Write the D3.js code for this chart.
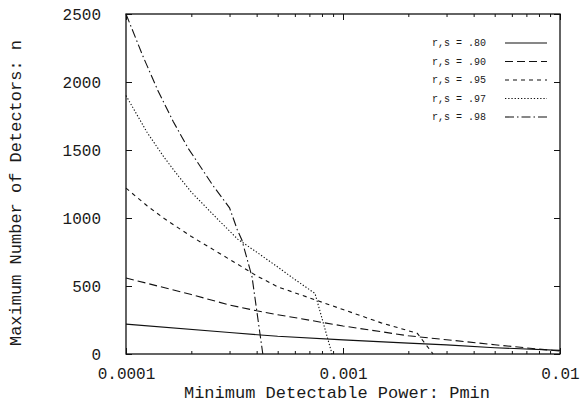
<!DOCTYPE html>
<html>
<head>
<meta charset="utf-8">
<script src="https://cdn.jsdelivr.net/npm/d3@7"></script>
<style>
	body { margin: 0; background: #fff; }
	text { font-family: "Liberation Mono", "DejaVu Sans Mono", monospace; fill: #1a1a1a; }
</style>
</head>
<body>
<div id="chart"></div>
<script>
//legend labels, one per curve
var seriesNames = ["r,s = .80", "r,s = .90", "r,s = .95", "r,s = .97", "r,s = .98"];

//minimum detectable power (x) and max number of detectors (y) for each curve
var pmin80 = [1e-4, 3e-4, 5e-4, 1e-3, 2e-3, 3e-3, 5e-3, 1e-2];
var n80 = [220, 158, 130, 104, 80, 67, 46, 27];

var pmin90 = [1e-4, 2e-4, 3e-4, 4e-4, 5e-4, 1e-3, 2e-3, 3e-3, 5e-3, 1e-2];
var n90 = [559, 437, 360, 318, 289, 206, 134, 105, 68, 21];

var pmin95 = [1e-4, 1.25e-4, 1.5e-4, 2e-4, 3e-4, 4e-4, 5e-4, 1e-3, 1.5e-3, 2.2e-3, 2.6e-3];
var n95 = [1220, 1090, 996, 864, 696, 575, 494, 327, 229, 152, 0];

var pmin97 = [1e-4, 1.25e-4, 1.5e-4, 1.75e-4, 2e-4, 2.65e-4, 3.27e-4, 4e-4, 5e-4, 6e-4, 7.43e-4, 8.9e-4];
var n97 = [1900, 1630, 1445, 1305, 1190, 990, 845, 749, 640, 548, 445, 0];

var pmin98 = [1e-4, 1.2e-4, 1.4e-4, 1.65e-4, 1.93e-4, 2.5e-4, 3e-4, 3.26e-4, 3.42e-4, 3.81e-4, 4.27e-4];
var n98 = [2500, 2185, 1940, 1710, 1515, 1245, 1075, 912, 838, 566, 0];

//tick labels
var xTicks = [1e-4, 1e-3, 1e-2];
var xTickLabels = ["0.0001", "0.001", "0.01"];
var yTicks = [0, 500, 1000, 1500, 2000, 2500];

(function () {

	"use strict";

	var width = 581,
		height = 403,
		margin = { top: 14, right: 21, bottom: 49, left: 126 },
		w = width - margin.left - margin.right,
		h = height - margin.top - margin.bottom;

	var series = [
		{ name: seriesNames[0], p: pmin80, n: n80, dash: null },
		{ name: seriesNames[1], p: pmin90, n: n90, dash: "8,4" },
		{ name: seriesNames[2], p: pmin95, n: n95, dash: "4,4" },
		{ name: seriesNames[3], p: pmin97, n: n97, dash: "1.3,1.9" },
		{ name: seriesNames[4], p: pmin98, n: n98, dash: "9,3,1.5,3" }
	];

	var svg = d3.select("#chart").append("svg")
		.attr("width", width)
		.attr("height", height);

	var g = svg.append("g")
		.attr("transform", "translate(" + margin.left + "," + margin.top + ")");

	var x = d3.scaleLog().domain([1e-4, 1e-2]).range([0, w]);
	var y = d3.scaleLinear().domain([0, 2500]).range([h, 0]);

	//minor log ticks: 2..9 of every decade
	var minor = [];
	[1e-4, 1e-3].forEach(function (d) {
		for (var k = 2; k < 10; k++) minor.push(d * k);
	});

	function noDomain(sel) { sel.select(".domain").remove(); }

	//bottom
	g.append("g").attr("transform", "translate(0," + h + ")")
		.call(d3.axisBottom(x).tickValues(minor).tickSize(-3).tickFormat(""))
		.call(noDomain);
	g.append("g").attr("transform", "translate(0," + h + ")")
		.call(d3.axisBottom(x).tickValues(xTicks).tickSize(-6).tickPadding(14)
			.tickFormat(function (d, i) { return xTickLabels[i]; }))
		.call(noDomain)
		.selectAll("text").style("font-size", "16px");

	//top
	g.append("g")
		.call(d3.axisTop(x).tickValues(minor).tickSize(-3).tickFormat(""))
		.call(noDomain);
	g.append("g")
		.call(d3.axisTop(x).tickValues(xTicks).tickSize(-6).tickFormat(""))
		.call(noDomain);

	//left
	g.append("g")
		.call(d3.axisLeft(y).tickValues(yTicks).tickSize(-6).tickPadding(25).tickFormat(d3.format("d")))
		.call(noDomain)
		.selectAll("text").style("font-size", "16px");

	//right
	g.append("g").attr("transform", "translate(" + w + ",0)")
		.call(d3.axisRight(y).tickValues(yTicks).tickSize(-6).tickFormat(""))
		.call(noDomain);

	g.selectAll(".tick line").attr("stroke", "#111");

	g.append("rect")
		.attr("width", w)
		.attr("height", h)
		.attr("fill", "none")
		.attr("stroke", "#111")
		.attr("stroke-width", 1.3);

	var line = d3.line()
		.x(function (d) { return x(d[0]); })
		.y(function (d) { return y(d[1]); });

	g.selectAll(".curve").data(series).enter().append("path")
		.attr("class", "curve")
		.attr("d", function (s) { return line(d3.zip(s.p, s.n)); })
		.attr("fill", "none")
		.attr("stroke", "#111")
		.attr("stroke-width", 1.1)
		.attr("stroke-dasharray", function (s) { return s.dash; });

	//legend
	var legend = g.selectAll(".legend").data(series).enter().append("g")
		.attr("class", "legend")
		.attr("transform", function (s, i) { return "translate(0," + (29 + i * 18.5) + ")"; });

	legend.append("text")
		.attr("x", 306)
		.attr("dy", "0.32em")
		.style("font-size", "10px")
		.text(function (s) { return s.name; });

	legend.append("line")
		.attr("x1", 379)
		.attr("x2", 421)
		.attr("stroke", "#111")
		.attr("stroke-width", 1.1)
		.attr("stroke-dasharray", function (s) { return s.dash; });

	//axis titles
	svg.append("text")
		.attr("x", 337)
		.attr("y", 398)
		.attr("text-anchor", "middle")
		.style("font-size", "17px")
		.text("Minimum Detectable Power: Pmin");

	svg.append("text")
		.attr("transform", "translate(21,193) rotate(-90)")
		.attr("text-anchor", "middle")
		.style("font-size", "17px")
		.text("Maximum Number of Detectors: n");

}).call(this);
</script>
</body>
</html>
